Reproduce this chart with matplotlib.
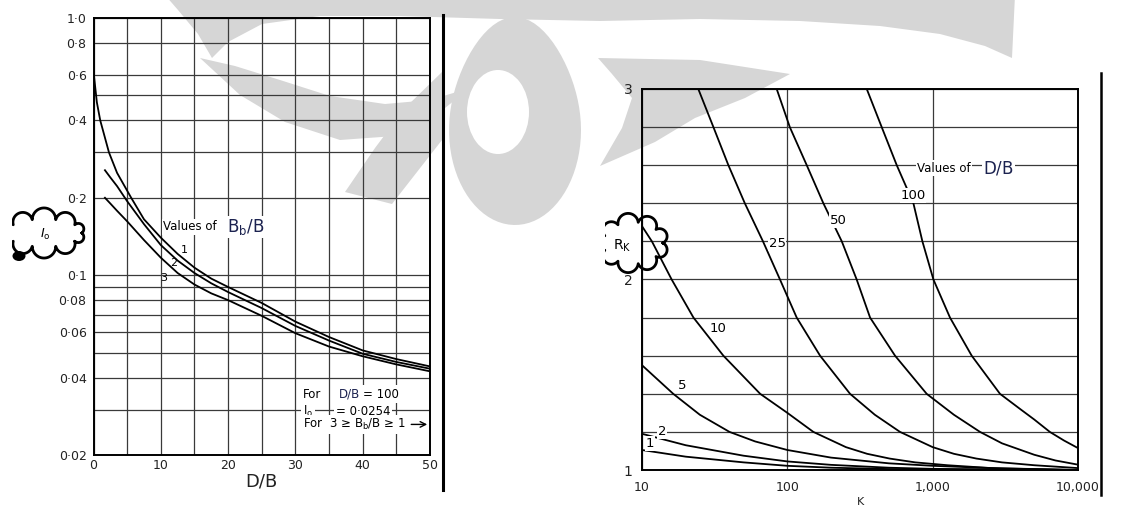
import numpy as np
import matplotlib
matplotlib.use("Agg")
import matplotlib.pyplot as plt
from matplotlib.patches import Polygon, Ellipse, Rectangle
from matplotlib.ticker import FixedLocator, FixedFormatter, NullFormatter

# --- Left chart: influence factor I_o against D/B, one curve per B_b/B ---
db_c1 = [0, 0.5, 1, 2.3, 3.5, 5.6, 7.5, 10, 12.5, 15, 17.5, 20, 25, 30, 35, 40, 45, 50]
io_c1 = [0.62, 0.47, 0.40, 0.30, 0.25, 0.20, 0.165, 0.14, 0.121, 0.107, 0.097, 0.090,
         0.078, 0.066, 0.0575, 0.051, 0.0472, 0.0442]
db_c23 = [1.7, 2.5, 3.5, 5, 7.5, 10, 12.5, 15, 17.5, 20, 25, 30, 35, 40, 45, 50]
io_c2 = [0.256, 0.24, 0.222, 0.194, 0.158, 0.131, 0.114, 0.102, 0.093, 0.086,
         0.0745, 0.0635, 0.0557, 0.0495, 0.046, 0.0433]
io_c3 = [0.200, 0.19, 0.178, 0.162, 0.137, 0.117, 0.102, 0.092, 0.085, 0.080,
         0.0695, 0.0595, 0.0528, 0.0484, 0.045, 0.0423]
bb_labels = ["1", "2", "3"]
bb_label_pos = [(13.5, 0.125), (11.9, 0.112), (10.5, 0.0975)]

io_ticks = [0.02, 0.04, 0.06, 0.08, 0.1, 0.2, 0.4, 0.6, 0.8, 1.0]
io_ticklabels = ["0·02", "0·04", "0·06", "0·08", "0·1", "0·2", "0·4", "0·6", "0·8", "1·0"]
io_minor = [0.03, 0.05, 0.07, 0.09, 0.3, 0.5]
db_ticks = [0, 10, 20, 30, 40, 50]

# --- Right chart: R_K against K, one curve per D/B ---
k_short = [10, 20, 50, 100, 200, 500, 1000, 10000]
rk_1 = [1.105, 1.07, 1.04, 1.022, 1.012, 1.005, 1.002, 1.0]
rk_2 = [1.19, 1.13, 1.075, 1.045, 1.027, 1.012, 1.006, 1.0]
k_5 = [10, 16.4, 25, 40, 60, 100, 200, 500, 1000, 3000, 10000]
rk_5 = [1.55, 1.40, 1.29, 1.20, 1.15, 1.105, 1.065, 1.035, 1.022, 1.008, 1.0]
k_10 = [10, 11.7, 16, 22.6, 36.3, 65, 100, 151, 253, 354, 506, 759, 1265, 2530, 10000]
rk_10 = [2.28, 2.2, 2.0, 1.8, 1.6, 1.4, 1.3, 1.2, 1.12, 1.085, 1.06, 1.04, 1.025,
         1.01, 1.0]
k_25 = [24.4, 31, 39.3, 51, 68, 89, 116, 168, 270, 400, 596, 1000, 1400, 2000, 3000,
        5000, 10000]
rk_25 = [3.0, 2.8, 2.6, 2.4, 2.2, 2.0, 1.8, 1.6, 1.4, 1.29, 1.2, 1.12, 1.085, 1.06,
         1.04, 1.025, 1.01]
k_50 = [84.5, 104, 136, 177, 237, 300, 371, 551, 909, 1400, 2117, 3000, 5000, 7000, 10000]
rk_50 = [3.0, 2.8, 2.6, 2.4, 2.2, 2.0, 1.8, 1.6, 1.4, 1.29, 1.2, 1.14, 1.08, 1.05, 1.028]
k_100 = [352, 446, 566, 737, 850, 1012, 1316, 1856, 2904, 4000, 5000, 6400, 8000, 10000]
rk_100 = [3.0, 2.8, 2.6, 2.4, 2.2, 2.0, 1.8, 1.6, 1.4, 1.32, 1.265, 1.2, 1.155, 1.115]
db_labels = ["1", "2", "5", "10", "25", "50", "100"]
db_label_pos = [(11.4, 1.14), (13.7, 1.2), (18.8, 1.446), (33.4, 1.745),
                (85, 2.19), (223, 2.31), (733, 2.44)]

k_ticks = [10, 100, 1000, 10000]
k_ticklabels = ["10", "100", "1,000", "10,000"]
rk_ticks = [1, 2, 3]
rk_grid = [1.2, 1.4, 1.6, 1.8, 2.0, 2.2, 2.4, 2.6, 2.8]

W, H = 1123, 514
GRID = dict(color="#3a3a3a", lw=0.9)
BLUE = "#1c2350"

fig = plt.figure(figsize=(W / 100, H / 100), dpi=100, facecolor="white")

# background layer for the faded logo, foreground layer for clouds and rules
back = fig.add_axes([0, 0, 1, 1])
back.set_xlim(0, W)
back.set_ylim(H, 0)
back.axis("off")
back.set_zorder(0)

wm = "#d6d6d6"
shapes = [
    # top arc band
    [(165, -5), (1015, -5), (1012, 58), (985, 46), (940, 34), (880, 26), (800, 21),
     (700, 19), (600, 21), (500, 19), (400, 16), (320, 16), (262, 24), (228, 42),
     (212, 58), (198, 34), (178, 10)],
    # left crescent
    [(200, 58), (240, 95), (285, 122), (340, 140), (395, 136), (440, 112), (470, 88),
     (430, 100), (385, 104), (330, 96), (280, 80), (235, 66)],
    # left spike
    [(442, 72), (405, 108), (375, 148), (345, 192), (392, 204), (442, 140)],
    # right horn
    [(598, 58), (700, 60), (790, 74), (745, 98), (695, 118), (655, 142), (600, 166),
     (622, 128), (632, 98), (612, 74)],
]
for pts in shapes:
    back.add_patch(Polygon(pts, closed=True, facecolor=wm, edgecolor="none"))
# central drop with its hole
t = np.linspace(0, 2 * np.pi, 80)
drop_x = 515 + 66 * np.cos(t)
drop_y = 130 + 95 * np.sin(t) - 18 * np.clip(-np.sin(t), 0, 1) ** 3
back.add_patch(Polygon(np.column_stack([drop_x, drop_y]), facecolor=wm, edgecolor="none"))
back.add_patch(Ellipse((498, 112), 62, 84, facecolor="white", edgecolor="none"))

# ---------------- left chart ----------------
ax1 = fig.add_axes([93.5 / W, 1 - 455 / H, (430 - 93.5) / W, (455 - 18) / H])
ax1.set_zorder(2)
ax1.set_facecolor("none")
ax1.set_yscale("log")
ax1.set_xlim(0, 50)
ax1.set_ylim(0.02, 1.0)
ax1.yaxis.set_major_locator(FixedLocator(io_ticks))
ax1.yaxis.set_major_formatter(FixedFormatter(io_ticklabels))
ax1.yaxis.set_minor_locator(FixedLocator(io_minor))
ax1.yaxis.set_minor_formatter(NullFormatter())
ax1.xaxis.set_major_locator(FixedLocator(db_ticks))
ax1.xaxis.set_minor_locator(FixedLocator(np.arange(5, 50, 10)))
ax1.grid(which="both", **GRID)
ax1.tick_params(which="both", length=0, labelsize=9, colors="#222")
ax1.tick_params(axis="y", pad=5)
ax1.tick_params(axis="x", pad=3)
for sp in ax1.spines.values():
    sp.set_linewidth(1.4)

for x, y in [(db_c1, io_c1), (db_c23, io_c2), (db_c23, io_c3)]:
    ax1.plot(x, y, color="black", lw=1.3)
for lab, (x, y) in zip(bb_labels, bb_label_pos):
    ax1.text(x, y, lab, fontsize=8, ha="center", va="center")

ax1.set_xlabel("D/B", fontsize=13, labelpad=0, color="#222")
ax1.text(10.4, 0.154, "Values of", fontsize=8.5, va="center",
         bbox=dict(facecolor="white", edgecolor="none", pad=1))
ax1.text(19.9, 0.154, r"$\mathsf{B_b/B}$", fontsize=12, va="center", color=BLUE,
         bbox=dict(facecolor="white", edgecolor="none", pad=1))

note = dict(fontsize=8.5, va="center", bbox=dict(facecolor="white", edgecolor="none", pad=1.5))
ax1.text(31.1, 0.0345, "For", **note)
ax1.text(36.5, 0.0345, "D/B", color=BLUE, **note)
ax1.text(40.1, 0.0345, "= 100", **note)
ax1.text(31.1, 0.0296, r"I$_\mathrm{o}$", **note)
ax1.text(36.0, 0.0296, "= 0·0254", **note)
ax1.text(31.1, 0.0263, r"For  3 ≥ B$_\mathrm{b}$/B ≥ 1", **note)
ax1.annotate("", xy=(50, 0.0263), xytext=(46.8, 0.0263),
             arrowprops=dict(arrowstyle="->", color="black", lw=1))

# ---------------- right chart ----------------
ax2 = fig.add_axes([642 / W, 1 - 470 / H, (1078 - 642) / W, (470 - 89) / H])
ax2.set_zorder(2)
ax2.set_facecolor("none")
ax2.set_xscale("log")
ax2.set_xlim(10, 10000)
ax2.set_ylim(1, 3)
ax2.xaxis.set_major_locator(FixedLocator(k_ticks))
ax2.xaxis.set_major_formatter(FixedFormatter(k_ticklabels))
ax2.xaxis.set_minor_locator(FixedLocator([]))
ax2.yaxis.set_major_locator(FixedLocator(rk_ticks))
ax2.yaxis.set_minor_locator(FixedLocator(rk_grid))
ax2.yaxis.set_minor_formatter(NullFormatter())
ax2.grid(which="both", **GRID)
ax2.tick_params(which="both", length=0, labelsize=9, colors="#222")
ax2.tick_params(axis="y", pad=7, labelsize=10)
ax2.tick_params(axis="x", pad=8)
for sp in ax2.spines.values():
    sp.set_linewidth(1.4)

for x, y in [(k_short, rk_1), (k_short, rk_2), (k_5, rk_5), (k_10, rk_10),
             (k_25, rk_25), (k_50, rk_50), (k_100, rk_100)]:
    ax2.plot(x, y, color="black", lw=1.3)
for lab, (x, y) in zip(db_labels, db_label_pos):
    ax2.text(x, y, lab, fontsize=9.5, ha="center", va="center",
             bbox=dict(facecolor="white", edgecolor="none", pad=0.6))

ax2.set_xlabel("K", fontsize=8, labelpad=2, color="#222")
ax2.text(780, 2.585, "Values of", fontsize=8.5, va="center",
         bbox=dict(facecolor="white", edgecolor="none", pad=1))
ax2.text(2218, 2.585, r"$\mathsf{D/B}$", fontsize=12, va="center", color=BLUE,
         bbox=dict(facecolor="white", edgecolor="none", pad=1))

# ---------------- clouds and page rules ----------------
front = fig.add_axes([0, 0, 1, 1])
front.set_xlim(0, W)
front.set_ylim(H, 0)
front.axis("off")
front.set_zorder(5)
front.patch.set_visible(False)


def cloud(ax, cx, cy, rx, ry, n, clip_x):
    ang = np.linspace(0, 2 * np.pi, n + 1)
    px = cx + rx * np.cos(ang)
    py = cy + ry * np.sin(ang)
    xs, ys = [], []
    s = np.linspace(0, 1, 24)
    for i in range(n):
        p1 = np.array([px[i], py[i]])
        p2 = np.array([px[i + 1], py[i + 1]])
        m = (p1 + p2) / 2
        r = np.linalg.norm(p2 - p1) / 2
        a0 = np.arctan2(p1[1] - m[1], p1[0] - m[0])
        best = None
        for sign in (1, -1):
            am = a0 + sign * np.pi / 2
            d = np.hypot(m[0] + r * np.cos(am) - cx, m[1] + r * np.sin(am) - cy)
            if best is None or d > best[0]:
                best = (d, a0 + sign * np.pi * s)
        xs.extend(m[0] + r * np.cos(best[1]))
        ys.extend(m[1] + r * np.sin(best[1]))
    line, = ax.plot(xs, ys, color="black", lw=2)
    clip = Rectangle((clip_x, -50), 2000, 1000, transform=ax.transData)
    line.set_clip_path(clip)


cloud(front, 44, 233, 38, 14, 10, 12)
front.text(45, 234, r"$I_\mathrm{o}$", fontsize=9, ha="center", va="center")
front.add_patch(Ellipse((19, 256), 13, 10, facecolor="black", edgecolor="none"))

cloud(front, 633, 243, 30, 21, 9, 605)
front.text(622, 246, r"$\mathsf{R_K}$", fontsize=10, ha="center", va="center")

front.plot([443, 443], [15, 490], color="black", lw=2.2)
front.plot([1101, 1101], [73, 495], color="black", lw=1.8)

fig.savefig("out.png", dpi=100)
